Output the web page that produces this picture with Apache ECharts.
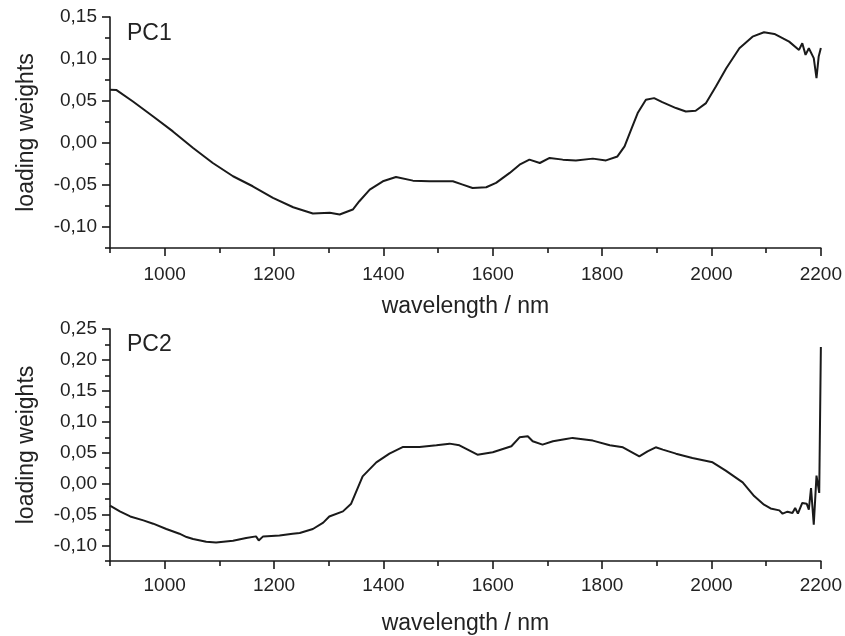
<!DOCTYPE html>
<html>
<head>
<meta charset="utf-8">
<script src="https://cdn.jsdelivr.net/npm/echarts@6/dist/echarts.min.js"></script>
<style>
html,body{margin:0;padding:0;background:#fff;}
#c{width:845px;height:636px;}
</style>
</head>
<body>
<div id="c"></div>
<script>
// ---- data ----
const wl1 = [900,912,942,979,1015,1052,1088,1125,1161,1198,1235,1271,1302,1320,1344,1356,1375,1399,1423,1454,1484,1527,1545,1563,1588,1606,1631,1649,1667,1686,1704,1728,1752,1783,1807,1828,1841,1853,1865,1880,1895,1910,1935,1953,1971,1990,2008,2027,2051,2075,2096,2115,2142,2160,2166,2172,2178,2187,2192,2196,2200];
const pc1 = [0.0633,0.063,0.0494,0.0316,0.0138,-0.006,-0.0238,-0.0396,-0.0515,-0.0653,-0.0765,-0.084,-0.0831,-0.0851,-0.0792,-0.0693,-0.0555,-0.0456,-0.0404,-0.0448,-0.0456,-0.0456,-0.0495,-0.0535,-0.0527,-0.0475,-0.0356,-0.0258,-0.0198,-0.0238,-0.0178,-0.0198,-0.0207,-0.0186,-0.0207,-0.016,-0.004,0.0158,0.0356,0.0514,0.0534,0.0487,0.0416,0.0375,0.0384,0.0475,0.0672,0.089,0.1128,0.1266,0.1318,0.1298,0.1207,0.1108,0.1188,0.1049,0.1128,0.101,0.0772,0.1029,0.113];

const wl2 = [900,918,937,961,979,1003,1027,1040,1052,1076,1094,1125,1149,1167,1172,1180,1210,1234,1247,1271,1290,1301,1326,1341,1362,1387,1411,1436,1466,1497,1521,1539,1572,1600,1634,1649,1664,1673,1691,1710,1734,1746,1783,1814,1838,1868,1883,1898,1911,1935,1965,2002,2026,2057,2078,2096,2108,2124,2130,2139,2148,2153,2158,2166,2174,2178,2182,2187,2192,2197,2200];
const pc2 = [-0.0356,-0.0448,-0.053,-0.0594,-0.0647,-0.0733,-0.0809,-0.0863,-0.0895,-0.0939,-0.095,-0.0922,-0.0879,-0.0852,-0.0917,-0.0852,-0.0838,-0.0809,-0.0798,-0.0733,-0.063,-0.053,-0.0448,-0.0324,0.0118,0.0345,0.0485,0.0594,0.0594,0.062,0.0647,0.062,0.0469,0.0507,0.0604,0.0749,0.0766,0.0685,0.0631,0.0685,0.0723,0.074,0.0696,0.062,0.0588,0.0442,0.0523,0.0588,0.055,0.0485,0.0415,0.0345,0.021,0.002,-0.02,-0.034,-0.040,-0.0432,-0.0485,-0.0453,-0.0474,-0.0393,-0.0485,-0.0312,-0.0324,-0.042,-0.007,-0.0663,0.013,-0.015,0.221];

const xMajor = [1000,1200,1400,1600,1800,2000,2200];
const xMinor = [900,1100,1300,1500,1700,1900,2100];
const y1Major = [-0.10,-0.05,0,0.05,0.10,0.15];
const y1Minor = [-0.125,-0.075,-0.025,0.025,0.075,0.125];
const y2Major = [-0.10,-0.05,0,0.05,0.10,0.15,0.20,0.25];
const y2Minor = [-0.125,-0.075,-0.025,0.025,0.075,0.125,0.175,0.225];
const panelLabels = ['PC1','PC2'];
const xTitle = 'wavelength / nm';
const yTitle = 'loading weights';

// ---- chart ----
const FONT = '"Liberation Sans", Arial, Helvetica, sans-serif';
const INK = '#1a1a1a';
const TXT = '#222';
const fmtY = v => Math.abs(v) < 1e-9 ? '0,00' : v.toFixed(2).replace('.', ',');
const fmtX = v => String(Math.round(v));
const zip = (a, b) => a.map((x, i) => [x, b[i]]);

function xAxes(gi, labelMargin, nameGap) {
  return [
    {
      gridIndex: gi, type: 'value', min: 900, max: 2200, position: 'bottom',
      axisLine: { show: true, onZero: false, lineStyle: { color: INK, width: 1.6 } },
      axisTick: { show: true, customValues: xMajor, length: 8, lineStyle: { color: INK, width: 1.6 } },
      axisLabel: { customValues: xMajor, formatter: fmtX, margin: labelMargin, color: TXT, fontSize: 19, fontFamily: FONT },
      splitLine: { show: false },
      name: xTitle, nameLocation: 'middle', nameGap: nameGap,
      nameTextStyle: { fontSize: 23, color: TXT, fontFamily: FONT }
    },
    {
      gridIndex: gi, type: 'value', min: 900, max: 2200, position: 'bottom',
      axisLine: { show: false, onZero: false },
      axisTick: { show: true, customValues: xMinor, length: 5, lineStyle: { color: INK, width: 1.6 } },
      axisLabel: { show: false },
      splitLine: { show: false }
    }
  ];
}
function yAxes(gi, max, major, minor) {
  return [
    {
      gridIndex: gi, type: 'value', min: -0.125, max: max, position: 'left',
      axisLine: { show: true, onZero: false, lineStyle: { color: INK, width: 1.6 } },
      axisTick: { show: true, customValues: major, length: 8, lineStyle: { color: INK, width: 1.6 } },
      axisLabel: { customValues: major, formatter: fmtY, margin: 13, color: TXT, fontSize: 19, fontFamily: FONT },
      splitLine: { show: false },
      name: yTitle, nameLocation: 'middle', nameGap: 72, nameRotate: 90,
      nameTextStyle: { fontSize: 23, color: TXT, fontFamily: FONT }
    },
    {
      gridIndex: gi, type: 'value', min: -0.125, max: max, position: 'left',
      axisLine: { show: false, onZero: false },
      axisTick: { show: true, customValues: minor, length: 5, lineStyle: { color: INK, width: 1.6 } },
      axisLabel: { show: false },
      splitLine: { show: false }
    }
  ];
}

const chart = echarts.init(document.getElementById('c'), null, { renderer: 'canvas' });
chart.setOption({
  animation: false,
  backgroundColor: '#fff',
  title: [
    { text: panelLabels[0], left: 127, top: 22, padding: 0, textStyle: { fontSize: 23, fontWeight: 'normal', color: TXT, fontFamily: FONT } },
    { text: panelLabels[1], left: 127, top: 333, padding: 0, textStyle: { fontSize: 23, fontWeight: 'normal', color: TXT, fontFamily: FONT } }
  ],
  grid: [
    { left: 110, right: 23, top: 17, height: 231 },
    { left: 110, right: 23, top: 329, height: 233 }
  ],
  xAxis: [...xAxes(0, 17, 47), ...xAxes(1, 15, 51)],
  yAxis: [...yAxes(0, 0.15, y1Major, y1Minor), ...yAxes(1, 0.25, y2Major, y2Minor)],
  series: [
    { type: 'line', xAxisIndex: 0, yAxisIndex: 0, data: zip(wl1, pc1), showSymbol: false, lineStyle: { color: INK, width: 2 }, silent: true },
    { type: 'line', xAxisIndex: 2, yAxisIndex: 2, data: zip(wl2, pc2), showSymbol: false, lineStyle: { color: INK, width: 2 }, silent: true }
  ]
});
</script>
</body>
</html>
